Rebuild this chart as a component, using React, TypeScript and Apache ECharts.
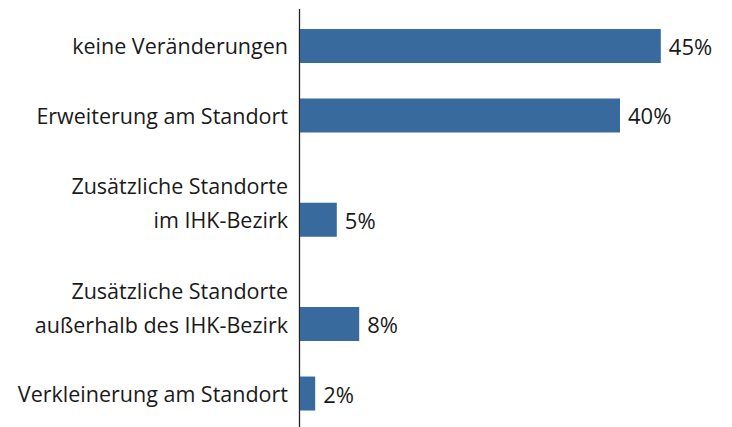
import React, { useEffect, useRef } from "react";
import * as echarts from "echarts";

const categories = [
  "keine Veränderungen",
  "Erweiterung am Standort",
  "Zusätzliche Standorte\nim IHK-Bezirk",
  "Zusätzliche Standorte\naußerhalb des IHK-Bezirk",
  "Verkleinerung am Standort",
];
const values = [45.1, 40.0, 4.6, 7.4, 1.9];
const valueLabels = ["45%", "40%", "5%", "8%", "2%"];
// layout: empty slots inserted before each category
const gapBefore = [0, 1, 2, 2, 1];

const FONT = "Open Sans";
const TEXT_COLOR = "#1a1a1a";
const BAR_COLOR = "#386a9e";
const GRID_LEFT = 300;

export default function App() {
  const ref = useRef<HTMLDivElement>(null);
  useEffect(() => {
    if (!ref.current) return;
    const chart = echarts.init(ref.current, undefined, { renderer: "svg" });
    const slots: string[] = [];
    const data: any[] = [];
    categories.forEach((c, i) => {
      for (let k = 0; k < gapBefore[i]; k++) {
        slots.push(`__gap${i}_${k}`);
        data.push(null);
      }
      slots.push(c);
      data.push({ value: values[i], label: { formatter: valueLabels[i] } });
    });
    chart.setOption({
      animation: false,
      grid: { left: GRID_LEFT, top: 28.6, bottom: 16.1, width: 400 },
      xAxis: {
        type: "value",
        min: 0,
        max: 50,
        show: false,
      },
      yAxis: {
        type: "category",
        inverse: true,
        data: slots,
        axisLine: { show: false },
        axisTick: { show: false },
        axisLabel: {
          interval: 0,
          margin: 12,
          fontFamily: FONT,
          fontSize: 21.5,
          lineHeight: 34,
          color: TEXT_COLOR,
          formatter: (v: string) =>
            v.startsWith("__gap") ? "" : v.includes("\n") ? v + "\n " : v,
        },
      },
      series: [
        {
          type: "bar",
          data,
          barWidth: 34,
          itemStyle: { color: BAR_COLOR },
          label: {
            show: true,
            position: "right",
            distance: 8,
            fontFamily: FONT,
            fontSize: 22,
            color: TEXT_COLOR,
          },
        },
      ],
      graphic: [
        {
          type: "line",
          shape: { x1: GRID_LEFT - 0.5, y1: 9, x2: GRID_LEFT - 0.5, y2: 427 },
          style: { stroke: "#222", lineWidth: 1.3 },
        },
      ],
    });
    return () => chart.dispose();
  }, []);
  return (
    <div
      ref={ref}
      style={{ position: "fixed", left: 0, top: 0, width: 732, height: 427, background: "#fff" }}
    />
  );
}
